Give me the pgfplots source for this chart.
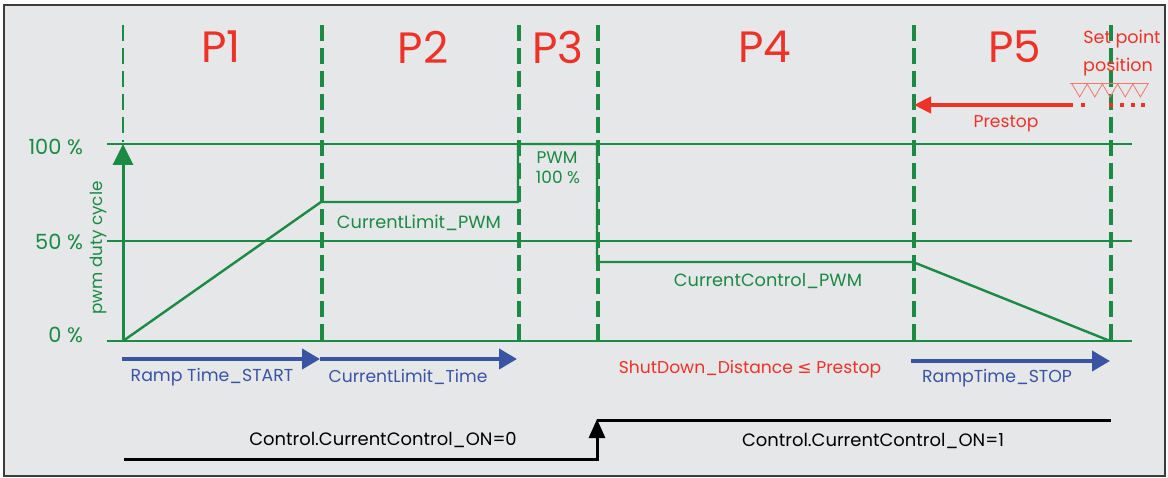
\documentclass[border=0pt]{standalone}
\usepackage{pgfplots}
\pgfplotsset{compat=1.18}
\usepackage{fontspec}
\setmainfont{Poppins}
\newfontfamily\symfont{DejaVu Sans}
\usetikzlibrary{arrows.meta}
\definecolor{gr}{RGB}{26,138,68}
\definecolor{rd}{RGB}{238,50,40}
\definecolor{rdl}{RGB}{240,120,110}
\definecolor{bl}{RGB}{58,84,164}
\definecolor{bg}{RGB}{230,231,232}
\definecolor{bd}{RGB}{60,60,60}
\newcommand\ft[1]{\fontsize{#1}{#1}\selectfont}
\begin{document}
\begin{tikzpicture}
\begin{axis}[x=0.5bp, y=0.5bp, xmin=0, xmax=1168, ymin=0, ymax=478, y dir=reverse,
  hide axis, clip=false, scale only axis]
% background
\addplot[fill=white, draw=none] coordinates {(0,0)(1168,0)(1168,478)(0,478)} -- cycle;
\addplot[fill=bg, draw=bd, line width=0.7bp] coordinates {(4,5)(1165,5)(1165,476)(4,476)} -- cycle;
% horizontal grid lines
\addplot[gr, line width=0.7bp] coordinates {(107,144)(1132,144)};
\addplot[gr, line width=0.7bp] coordinates {(107,241)(1132,241)};
\addplot[gr, line width=0.7bp] coordinates {(107,341)(1132,341)};
% dashed phase boundaries
\addplot[gr, line width=1.1bp, dash pattern=on 8bp off 3.5bp] coordinates {(123,25)(123,142)};
\addplot[gr, line width=2.3bp, dash pattern=on 8bp off 3.5bp] coordinates {(322,25)(322,341)};
\addplot[gr, line width=2.3bp, dash pattern=on 8bp off 3.5bp] coordinates {(519,25)(519,341)};
\addplot[gr, line width=2.3bp, dash pattern=on 8bp off 3.5bp] coordinates {(598,25)(598,341)};
\addplot[gr, line width=2.3bp, dash pattern=on 8bp off 3.5bp] coordinates {(914,25)(914,341)};
\addplot[gr, line width=2.3bp, dash pattern=on 8bp off 3.5bp] coordinates {(1111,25)(1111,341)};
% y arrow
\addplot[gr, line width=1.5bp, -{Triangle[length=10.5bp,width=10bp]}] coordinates {(123,341)(123,144)};
% pwm curve
\addplot[gr, line width=1.2bp] coordinates {(123,341)(321,202)(518,202)(518,144)(597,144)(597,262)(913,262)(1110,341)};
% y labels
\node[text=gr, font=\ft{10.5}, anchor=east] at (axis cs:90,147) {100 \%};
\node[text=gr, font=\ft{10.5}, anchor=east] at (axis cs:90,242) {50 \%};
\node[text=gr, font=\ft{10.5}, anchor=east] at (axis cs:90,335) {0 \%};
\node[text=gr, font=\ft{8.4}, rotate=90] at (axis cs:98,248) {pwm duty cycle};
% green texts
\node[text=gr, font=\ft{8.9}] at (axis cs:419,223) {CurrentLimit\_PWM};
\node[text=gr, font=\ft{8.5}] at (axis cs:557,158) {PWM};
\node[text=gr, font=\ft{8.5}] at (axis cs:558,177) {100 \%};
\node[text=gr, font=\ft{8.9}] at (axis cs:768,281) {CurrentControl\_PWM};
% phase labels
\node[text=rd, font=\ft{22}] at (axis cs:221,47) {P1};
\node[text=rd, font=\ft{22}] at (axis cs:423,47) {P2};
\node[text=rd, font=\ft{22}] at (axis cs:558,47) {P3};
\node[text=rd, font=\ft{22}] at (axis cs:765,47) {P4};
\node[text=rd, font=\ft{22}] at (axis cs:1015,47) {P5};
% set point
\node[text=rd, font=\ft{8.8}] at (axis cs:1122,39) {Set point};
\node[text=rd, font=\ft{8.8}] at (axis cs:1118,67) {position};
\addplot[rdl, line width=0.5bp] coordinates {(1070,84)(1149,84)};
\addplot[rdl, line width=0.4bp] coordinates {(1072,84)(1079.6,97)(1087.2,84)(1094.8,97)(1102.4,84)(1110,97)(1117.6,84)(1125.2,97)(1132.8,84)(1140.4,97)(1148,84)};
\addplot[rd, line width=2bp, -{Triangle[length=8.5bp,width=8bp]}] coordinates {(1073,105)(914,105)};
\addplot[rd, only marks, mark=square*, mark size=0.7bp] coordinates {(1083,105)(1111,105)(1122,105)(1133,105)(1143,105)};
\node[text=rd, font=\ft{8.6}] at (axis cs:1006,124) {Prestop};
% blue arrows
\addplot[bl, line width=2bp, -{Triangle[length=9bp,width=10bp]}] coordinates {(122,359)(320,359)};
\addplot[bl, line width=2bp, -{Triangle[length=9bp,width=10bp]}] coordinates {(320,359)(517,359)};
\addplot[bl, line width=2bp, -{Triangle[length=9bp,width=10bp]}] coordinates {(911,361)(1110,361)};
\node[text=bl, font=\ft{8.7}] at (axis cs:212,377) {Ramp Time\_START};
\node[text=bl, font=\ft{8.6}] at (axis cs:408,377) {CurrentLimit\_Time};
\node[text=bl, font=\ft{8.7}] at (axis cs:997,378) {RampTime\_STOP};
\node[text=rd, font=\ft{8.6}] at (axis cs:750,369) {ShutDown\_Distance {\symfont ≤} Prestop};
% control signal
\addplot[black, line width=1.5bp] coordinates {(124,459)(597,459)(597,440)};
\addplot[black, line width=1.5bp, -{Triangle[length=9.5bp,width=8bp]}] coordinates {(597,445)(597,419)};
\addplot[black, line width=1.5bp] coordinates {(597,420)(1111,420)};
\node[text=black, font=\ft{9}] at (axis cs:383,440) {Control.CurrentControl\_ON=0};
\node[text=black, font=\ft{9}] at (axis cs:873,441) {Control.CurrentControl\_ON=1};
\end{axis}
\end{tikzpicture}
\end{document}
